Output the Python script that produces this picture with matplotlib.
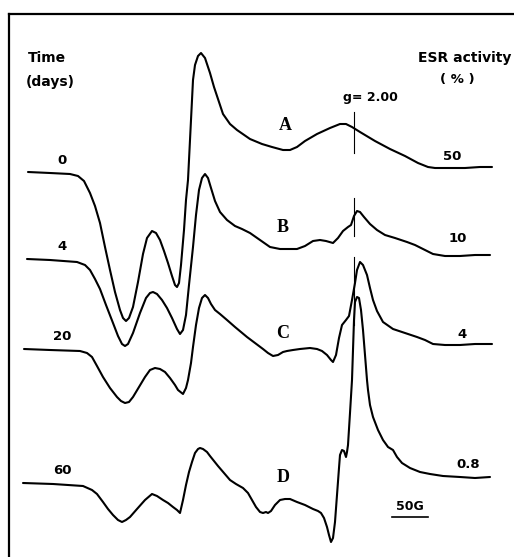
import matplotlib.pyplot as plt

# Traces (x = field position, y = pen position, in picture units)
ax_x = [28, 50, 70, 78, 84, 90, 95, 100, 105, 110, 115, 120, 123, 126, 129, 133, 138, 143, 147, 152,
        156, 160, 164, 168, 172, 175, 177, 179, 181, 184, 186, 188, 190, 192, 193, 195, 198, 201, 205,
        210, 214, 218, 223, 230, 237, 250, 262, 272, 283, 290, 297, 305, 317, 330, 340, 346, 352, 360,
        375, 390, 405, 418, 428, 435, 450, 465, 480, 492]
ax_y = [172, 173, 174, 176, 181, 193, 206, 223, 247, 270, 292, 310, 318, 321, 318, 307, 282, 254, 238, 231,
        233, 240, 251, 263, 276, 285, 287, 283, 265, 230, 200, 180, 140, 100, 80, 65, 56, 53, 58,
        73, 87, 99, 114, 124, 130, 139, 144, 147, 150, 150, 147, 141, 134, 128, 124, 124, 127, 132,
        141, 149, 156, 163, 167, 168, 168, 168, 167, 167]

bx_x = [27, 50, 77, 85, 90, 95, 100, 106, 113, 118, 122, 125, 128, 133, 140, 146, 150, 153, 157, 162,
        167, 172, 177, 180, 183, 186, 189, 193, 196, 199, 202, 205, 208, 211, 215, 220, 227, 235, 242,
        250, 260, 270, 280, 297, 305, 313, 320, 326, 333, 338, 343, 348, 351, 354, 357, 360, 364, 370,
        377, 385, 395, 407, 415, 425, 433, 445, 460, 475, 490]
bx_y = [259, 260, 262, 265, 270, 279, 289, 305, 323, 336, 344, 346, 344, 333, 313, 298, 293, 292, 294, 300,
        308, 318, 329, 334, 330, 315, 285, 247, 215, 190, 178, 174, 178, 188, 201, 212, 220, 226, 229,
        233, 240, 247, 249, 249, 246, 241, 240, 241, 243, 238, 231, 227, 225, 216, 211, 212, 217, 224,
        230, 235, 238, 242, 245, 250, 254, 256, 256, 255, 255]

cx_x = [24, 50, 80, 87, 92, 97, 103, 110, 117, 121, 125, 129, 133, 139, 145, 150, 155, 160, 165, 170,
        175, 178, 183, 186, 188, 191, 193, 196, 199, 202, 205, 208, 211, 215, 220, 227, 235, 247, 255,
        263, 268, 273, 278, 283, 287, 293, 300, 310, 317, 322, 327, 331, 333, 336, 339, 342, 346, 349,
        352, 355, 357, 360, 363, 367, 370, 373, 377, 383, 393, 405, 417, 425, 433, 445, 460, 475, 492]
cx_y = [349, 350, 351, 353, 357, 366, 377, 388, 397, 401, 403, 402, 397, 387, 377, 370, 368, 369, 372, 378,
        385, 390, 394, 388, 380, 363, 347, 325, 308, 298, 295, 298, 304, 310, 314, 320, 327, 337, 343,
        349, 353, 356, 355, 352, 351, 350, 349, 348, 349, 351, 355, 360, 362, 355, 338, 325, 320, 316,
        300, 283, 270, 262, 265, 275, 288, 300, 311, 322, 329, 333, 337, 340, 344, 345, 345, 344, 344]

dx_x = [23, 53, 83, 92, 97, 103, 108, 113, 118, 122, 126, 130, 137, 145, 152, 157, 163, 168, 173, 177,
        180, 183, 186, 189, 192, 195, 198, 200, 203, 207, 210, 214, 218, 224, 230, 236, 243, 248, 252,
        256, 260, 263, 266, 268, 271, 275, 280, 285, 290, 297, 305, 313, 318, 321, 324, 327, 329, 331,
        333, 335, 337, 339, 340, 342, 344, 346, 347, 348, 350, 352, 353, 354, 355, 357, 359, 361, 363,
        365, 367, 368, 370, 373, 378, 383, 388, 393, 397, 402, 410, 420, 430, 443, 460, 475, 490]
dx_y = [483, 484, 486, 490, 494, 502, 509, 515, 520, 522, 520, 517, 509, 500, 494, 496, 500, 503, 507, 510,
        513, 500, 485, 472, 462, 453, 449, 448, 449, 452, 456, 461, 466, 473, 480, 484, 488, 493, 500,
        507, 512, 513, 512, 513, 511, 505, 500, 499, 499, 502, 505, 509, 511, 513, 518, 527, 535, 542,
        538, 522, 495, 468, 455, 450, 451, 457, 452, 445, 413, 380, 350, 320, 302, 297, 298, 310, 330,
        355, 380, 390, 405, 417, 430, 440, 447, 450, 457, 463, 468, 472, 474, 476, 477, 478, 477]

traces = [(ax_x, ax_y), (bx_x, bx_y), (cx_x, cx_y), (dx_x, dx_y)]

trace_names = ['A', 'B', 'C', 'D']
name_pos = [(285, 126), (283, 227), (283, 334), (283, 477)]
days = ['0', '4', '20', '60']
days_pos = [(62, 161), (62, 246), (62, 336), (62, 470)]
activity = ['50', '10', '4', '0.8']
activity_pos = [(452, 157), (458, 239), (462, 334), (468, 464)]

# g = 2.00 marker: x and vertical extent on traces A, B, C
g_x = 354
g_spans = [(112, 153), (198, 236), (257, 325)]

fig = plt.figure(figsize=(5.14, 5.57), dpi=100)
ax = fig.add_axes([9 / 514, 0, 505 / 514, 543 / 557])
ax.set_xlim(9, 514)
ax.set_ylim(557, 14)
ax.set_xticks([])
ax.set_yticks([])
for side in ['right', 'bottom']:
    ax.spines[side].set_visible(False)
for side in ['left', 'top']:
    ax.spines[side].set_linewidth(1.6)

for xs, ys in traces:
    ax.plot(xs, ys, color='black', lw=1.5, solid_joinstyle='round', solid_capstyle='round')

for y0, y1 in g_spans:
    ax.plot([g_x, g_x], [y0, y1], color='black', lw=0.8)

bold = dict(fontweight='bold', family='DejaVu Sans', color='black')
for t, (x, y) in zip(trace_names, name_pos):
    ax.text(x, y, t, ha='center', va='center', fontsize=13, fontweight='bold',
            family='Liberation Serif')
for t, (x, y) in zip(days, days_pos):
    ax.text(x, y, t, ha='center', va='center', fontsize=9.5, **bold)
for t, (x, y) in zip(activity, activity_pos):
    ax.text(x, y, t, ha='center', va='center', fontsize=9.5, **bold)

ax.text(28, 58, 'Time', ha='left', va='center', fontsize=10, **bold)
ax.text(26, 82, '(days)', ha='left', va='center', fontsize=10, **bold)
ax.text(511, 58, 'ESR activity', ha='right', va='center', fontsize=10, **bold)
ax.text(457, 80, '( % )', ha='center', va='center', fontsize=9.5, **bold)
ax.text(343, 97, 'g= 2.00', ha='left', va='center', fontsize=9, **bold)

# 50 G scale bar
ax.text(410, 507, '50G', ha='center', va='center', fontsize=9, **bold)
ax.plot([392, 428], [517, 517], color='black', lw=1.2)

fig.savefig('out.png', dpi=100)
